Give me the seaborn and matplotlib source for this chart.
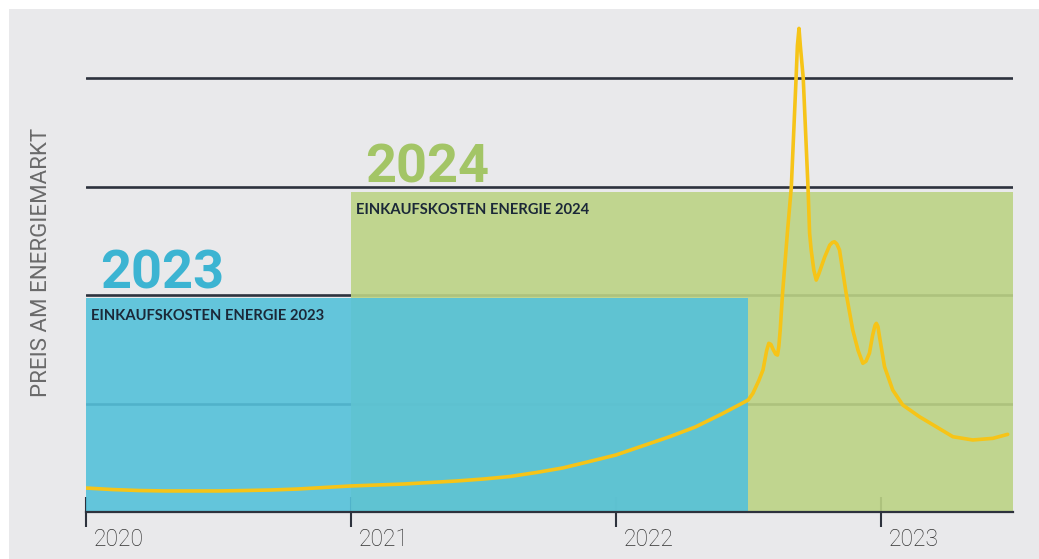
import matplotlib
matplotlib.use("Agg")
import numpy as np
import pandas as pd
import seaborn as sns
import matplotlib.pyplot as plt
from matplotlib.patches import Rectangle
import matplotlib.transforms as mtransforms

# ---------------- data ----------------
years = [2020, 2021, 2022, 2023]
year_labels = ["2020", "2021", "2022", "2023"]
grid_levels = [1, 2, 3, 4]

price_x = [2020.0, 2020.1, 2020.2, 2020.3, 2020.4, 2020.5, 2020.6, 2020.7, 2020.8,
           2020.9, 2021.0, 2021.1, 2021.2, 2021.3, 2021.4, 2021.5, 2021.6, 2021.7,
           2021.8, 2021.9, 2022.0, 2022.1, 2022.2, 2022.3, 2022.4, 2022.5,
           2022.518, 2022.540, 2022.556, 2022.570, 2022.578, 2022.586,
           2022.594, 2022.604, 2022.611, 2022.616, 2022.621, 2022.630, 2022.649,
           2022.663, 2022.681, 2022.686, 2022.692, 2022.697, 2022.708, 2022.726,
           2022.732, 2022.738, 2022.748, 2022.757, 2022.766, 2022.789, 2022.808,
           2022.818, 2022.826, 2022.835, 2022.845, 2022.870, 2022.895, 2022.915,
           2022.933, 2022.945, 2022.958, 2022.970, 2022.979, 2022.984, 2022.990,
           2022.996, 2023.015, 2023.046, 2023.084, 2023.147, 2023.210, 2023.273,
           2023.348, 2023.424, 2023.480]
price_y = [0.221, 0.207, 0.198, 0.194, 0.194, 0.194, 0.198, 0.203, 0.212,
           0.226, 0.240, 0.249, 0.258, 0.272, 0.286, 0.304, 0.327, 0.364,
           0.406, 0.465, 0.525, 0.608, 0.691, 0.783, 0.903, 1.032,
           1.094, 1.210, 1.309, 1.490, 1.555, 1.545,
           1.500, 1.455, 1.447, 1.530, 1.677, 2.018, 2.599,
           2.995, 4.000, 4.300, 4.458, 4.300, 4.000, 2.995,
           2.571, 2.415, 2.230, 2.138, 2.190, 2.350, 2.460,
           2.485, 2.491, 2.470, 2.415, 2.016, 1.677, 1.490,
           1.371, 1.390, 1.465, 1.630, 1.720, 1.739, 1.710,
           1.616, 1.339, 1.124, 0.986, 0.878, 0.786, 0.694,
           0.664, 0.679, 0.716]

period_names = ["2023", "2024"]
period_start = [2020.0, 2021.0]
period_end = [2022.5, 2023.5]
period_level = [1.97, 2.95]
period_labels = ["EINKAUFSKOSTEN ENERGIE 2023", "EINKAUFSKOSTEN ENERGIE 2024"]
y_label = "PREIS AM ENERGIEMARKT"

# ---------------- style ----------------
sns.set_style("white")
plt.rcParams["font.family"] = ["Roboto", "DejaVu Sans"]

rect_colors = ["#55c1da", "#bcd385"]
title_colors = ["#3cb4d2", "#a3c566"]
line_color = "#f6c417"
dark = "#2d323d"
bg = "#e9e9eb"

W, H = 1039, 559
fig = plt.figure(figsize=(W / 100, H / 100), dpi=100, facecolor="white")
fig.add_artist(Rectangle((9 / W, 0), 1, 1 - 9 / H, transform=fig.transFigure,
                         facecolor=bg, edgecolor="none", zorder=-10))

ax = fig.add_axes([86 / W, 47 / H, 927 / W, 499 / H])
ax.set_facecolor("none")
ax.set_xlim(2020, 2023.5)
ax.set_ylim(0, 4.6)

# grid lines (behind the boxes)
for g in grid_levels:
    ax.axhline(g, color=dark, lw=1.9, zorder=0.5)

# cost boxes (green first, blue over it)
for i in [1, 0]:
    ax.bar(period_start[i], period_level[i], width=period_end[i] - period_start[i],
           align="edge", color=rect_colors[i], alpha=0.9, linewidth=0, zorder=1)
    ax.text(period_start[i] + 0.055, period_level[i] + 0.09, period_names[i],
            color=title_colors[i], fontsize=39, fontweight="bold",
            ha="left", va="baseline", zorder=4)
    ax.text(period_start[i] + 0.02, period_level[i] - 0.20, period_labels[i],
            color="#1b2838", fontsize=10.6, fontweight="bold", family=["Lato", "DejaVu Sans"],
            ha="left", va="baseline", zorder=4)

# price line
df = pd.DataFrame({"x": price_x, "y": price_y})
sns.lineplot(data=df, x="x", y="y", ax=ax, color=line_color, lw=2.6, sort=False,
             estimator=None, zorder=3)
ax.lines[-1].set_solid_joinstyle("round")

# axes styling
for s in ["top", "right", "left"]:
    ax.spines[s].set_visible(False)
ax.spines["bottom"].set_color(dark)
ax.spines["bottom"].set_linewidth(1.6)
ax.spines["bottom"].set_zorder(2.5)
ax.set_yticks([])
ax.set_xticks(years)
ax.set_xticklabels(year_labels)
ax.tick_params(axis="x", bottom=True, direction="inout", length=21, width=1.5, color=dark,
               labelsize=16.5, labelcolor="#333333", pad=1)
offset = mtransforms.ScaledTranslation(0.08, 0, fig.dpi_scale_trans)
for t in ax.get_xticklabels():
    t.set_ha("left")
    t.set_fontweight("light")
    t.set_transform(t.get_transform() + offset)
ax.set_xlabel("")
ax.set_ylabel(y_label, fontsize=16, color="#6a6a6a")
ax.yaxis.set_label_coords(-(86 - 52) / 927, (512 - 262) / 499)

fig.savefig("out.png", dpi=100, facecolor=fig.get_facecolor())
